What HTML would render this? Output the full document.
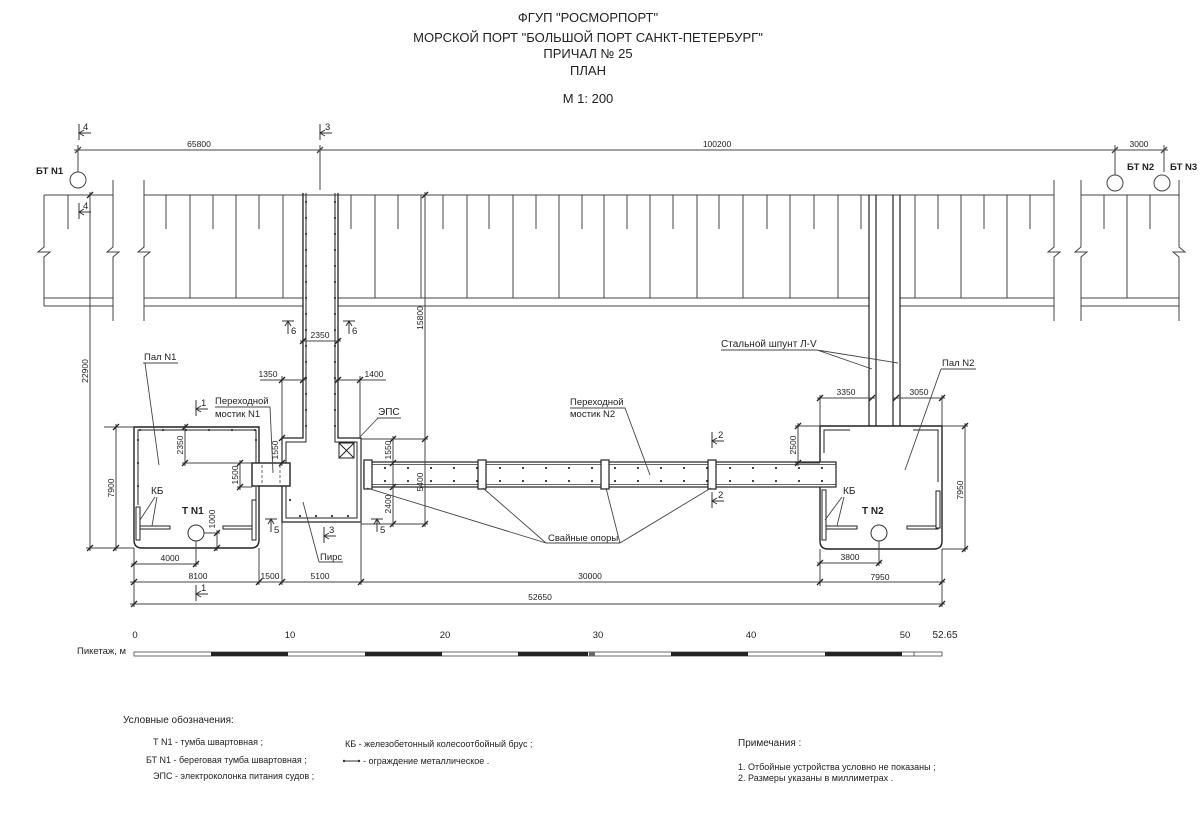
<!DOCTYPE html>
<html><head><meta charset="utf-8">
<style>
html,body{margin:0;padding:0;background:#fff;}
svg{display:block;}
text{font-family:"Liberation Sans","DejaVu Sans",sans-serif;fill:#222;}
</style></head><body>
<svg width="1200" height="826" viewBox="0 0 1200 826" xmlns="http://www.w3.org/2000/svg">
<rect width="1200" height="826" fill="#fff"/>

<!-- Title -->
<g font-size="13" text-anchor="middle">
<text x="588" y="22">ФГУП "РОСМОРПОРТ"</text>
<text x="588" y="42">МОРСКОЙ ПОРТ "БОЛЬШОЙ ПОРТ САНКТ-ПЕТЕРБУРГ"</text>
<text x="588" y="58">ПРИЧАЛ № 25</text>
<text x="588" y="75">ПЛАН</text>
<text x="588" y="103">М 1: 200</text>
</g>

<g stroke="#444" stroke-width="1" fill="none">
<!-- top dimension line -->
<line x1="74" y1="150" x2="1168" y2="150"/>
<line x1="78" y1="145" x2="78" y2="172"/>
<line x1="320" y1="145" x2="320" y2="190"/>
<line x1="1115" y1="145" x2="1115" y2="175"/>
<line x1="1164" y1="145" x2="1164" y2="172"/>
<path d="M75,153 L81,147 M317,153 L323,147 M1112,153 L1118,147 M1161,153 L1167,147" stroke-width="1.3"/>

<!-- bollards -->
<circle cx="78" cy="180" r="8"/>
<circle cx="1115" cy="183" r="8"/>
<circle cx="1162" cy="183" r="8"/>

<!-- quay segments -->
<path d="M44,195 H113 M44,298 H113 M44,306 H113"/>
<path d="M144,195 H1054"/>
<path d="M144,298 H303 M338,298 H869 M900,298 H1054 M144,306 H303 M338,306 H869 M900,306 H1054"/>
<path d="M1081,195 H1179 M1081,298 H1179 M1081,306 H1179"/>
<!-- break edges -->
<path d="M44,195 V247 L38,252 H50 L44,257 V306"/>
<path d="M113,180 V247 L107,252 H119 L113,257 V321"/>
<path d="M144,180 V247 L138,252 H150 L144,257 V321"/>
<path d="M1054,180 V247 L1048,252 H1060 L1054,257 V321"/>
<path d="M1081,180 V247 L1075,252 H1087 L1081,257 V321"/>
<path d="M1179,180 V247 L1185,252 H1173 L1179,257 V321"/>

<!-- tall lines -->
<path d="M190,195V298 M236,195V298 M283,195V298 M375,195V298 M421,195V298 M467,195V298 M513,195V298 M559,195V298 M604,195V298 M650,195V298 M697,195V298 M743,195V298 M790,195V298 M838,195V298 M915,195V298 M961,195V298 M1007,195V298 M1127,195V298"/>
<!-- short ticks -->
<path d="M68,195V229 M166,195V229 M213,195V229 M259,195V229 M351,195V229 M398,195V229 M443,195V229 M489,195V229 M536,195V229 M582,195V229 M627,195V229 M673,195V229 M719,195V229 M767,195V229 M814,195V229 M861,195V229 M938,195V229 M984,195V229 M1030,195V229 M1104,195V229 M1150,195V229"/>
</g>

<!-- Pier 1 -->
<g stroke="#222" fill="none" stroke-width="1.3">
<path d="M303,193 V438 H282 V522 H361 V438 H338 V193"/>
<path d="M306,193 V442 H286 V518 H357 V442 H335 V193" stroke-width="1"/>
</g>
<g stroke="#333" stroke-width="2.2" stroke-linecap="round" stroke-dasharray="0 16" fill="none">
<line x1="306" y1="202" x2="306" y2="436"/>
<line x1="335" y1="202" x2="335" y2="436"/>
<line x1="290" y1="500" x2="290" y2="516"/>
<line x1="300" y1="516" x2="356" y2="516"/>
</g>
<!-- EPS box -->
<g stroke="#222" stroke-width="1" fill="#fff">
<rect x="339" y="443" width="15" height="15"/>
<path d="M339,443 L354,458 M354,443 L339,458"/>
</g>

<!-- Pier 2 channel -->
<g stroke="#222" stroke-width="1.2" fill="none">
<path d="M869,195 V426 M876,195 V426 M893,195 V426 M900,195 V426"/>
</g>

<!-- Pal N1 -->
<g stroke="#222" fill="none">
<path d="M134,427 H259 V540 Q259,548 251,548 H142 Q134,548 134,540 Z" stroke-width="1.4"/>
<path d="M138,505 V430 H256 V463 M256,487 V500" stroke-width="1"/>
</g>
<g stroke="#333" stroke-width="2.2" stroke-linecap="round" stroke-dasharray="0 23" fill="none">
<line x1="140" y1="430" x2="256" y2="430"/>
<line x1="138" y1="440" x2="138" y2="505"/>
<line x1="256" y1="440" x2="256" y2="463"/>
</g>
<!-- fenders N1 -->
<g fill="#fff" stroke="#222" stroke-width="1">
<rect x="136" y="507" width="4" height="33"/>
<rect x="140" y="526" width="30" height="3"/>
<rect x="223" y="526" width="30" height="3"/>
<rect x="252" y="500" width="4" height="40"/>
</g>
<circle cx="196" cy="533" r="8" fill="none" stroke="#333"/>

<!-- Pal N2 -->
<g stroke="#222" fill="none">
<path d="M820,426 H942 V541 Q942,549 934,549 H828 Q820,549 820,541 Z" stroke-width="1.4"/>
<path d="M850,430 H824 V453 M913,430 H938 V482" stroke-width="1"/>
</g>
<g fill="#fff" stroke="#222" stroke-width="1">
<rect x="822" y="490" width="4" height="50"/>
<rect x="826" y="526" width="31" height="3"/>
<rect x="907" y="526" width="31" height="3"/>
<rect x="936" y="491" width="4" height="37"/>
</g>
<circle cx="879" cy="533" r="8" fill="none" stroke="#333"/>

<!-- Bridge N2 -->
<rect x="364" y="462" width="472" height="25" fill="#fff" stroke="#222" stroke-width="1.2"/>
<g stroke="#333" stroke-width="0.8" fill="none">
<line x1="364" y1="464.5" x2="836" y2="464.5"/>
<line x1="364" y1="484.5" x2="836" y2="484.5"/>
</g>
<g stroke="#333" stroke-width="2.2" stroke-linecap="round" stroke-dasharray="0 23" fill="none">
<line x1="385" y1="468" x2="830" y2="468"/>
<line x1="385" y1="481" x2="830" y2="481"/>
</g>
<!-- piles -->
<g fill="#fff" stroke="#222" stroke-width="1.2">
<rect x="364" y="460" width="8" height="29"/>
<rect x="478" y="460" width="8" height="29"/>
<rect x="601" y="460" width="8" height="29"/>
<rect x="708" y="460" width="8" height="29"/>
</g>

<!-- Bridge N1 -->
<rect x="252" y="463" width="38" height="23" fill="#fff" stroke="#222" stroke-width="1.4"/>
<g stroke="#444" stroke-width="0.8" stroke-dasharray="3 2" fill="none">
<line x1="262" y1="465" x2="262" y2="484"/>
<line x1="280" y1="465" x2="280" y2="484"/>
</g>

<!-- Dimension lines -->
<g stroke="#444" stroke-width="1" fill="none">
<!-- 22900 / 7900 -->
<line x1="90" y1="192" x2="90" y2="551"/>
<line x1="116" y1="424" x2="116" y2="551"/>
<line x1="104" y1="427" x2="134" y2="427"/>
<line x1="86" y1="548" x2="134" y2="548"/>
<!-- 2350 / 1500 inside Pal N1 -->
<line x1="185" y1="424" x2="185" y2="466"/>
<line x1="182" y1="463" x2="252" y2="463"/>
<line x1="240" y1="460" x2="240" y2="490"/>
<line x1="237" y1="487" x2="252" y2="487"/>
<!-- 1000 -->
<line x1="217" y1="530" x2="217" y2="551"/>
<line x1="204" y1="533" x2="220" y2="533"/>
<!-- bottom ext lines -->
<line x1="134" y1="548" x2="134" y2="607"/>
<line x1="259" y1="548" x2="259" y2="585"/>
<line x1="282" y1="522" x2="282" y2="585"/>
<line x1="361" y1="439" x2="361" y2="585"/>
<line x1="820" y1="549" x2="820" y2="586"/>
<line x1="942" y1="549" x2="942" y2="607"/>
<line x1="196" y1="541" x2="196" y2="567"/>
<line x1="879" y1="541" x2="879" y2="566"/>
<!-- horizontal dims -->
<line x1="131" y1="564" x2="199" y2="564"/>
<line x1="817" y1="563" x2="882" y2="563"/>
<line x1="130" y1="582" x2="945" y2="582"/>
<line x1="130" y1="604" x2="945" y2="604"/>
<!-- pier channel dims -->
<line x1="300" y1="341" x2="341" y2="341"/>
<line x1="260" y1="380" x2="306" y2="380"/>
<line x1="335" y1="380" x2="386" y2="380"/>
<line x1="282" y1="376" x2="282" y2="466"/>
<line x1="360" y1="376" x2="360" y2="438"/>
<!-- 15800 / 5400 / 1550 / 2400 -->
<line x1="425" y1="192" x2="425" y2="527"/>
<line x1="393" y1="436" x2="393" y2="527"/>
<line x1="361" y1="439" x2="428" y2="439"/>
<line x1="361" y1="524" x2="428" y2="524"/>
<!-- Pal N2 dims -->
<line x1="817" y1="398" x2="875" y2="398"/>
<line x1="893" y1="398" x2="945" y2="398"/>
<line x1="820" y1="395" x2="820" y2="426"/>
<line x1="942" y1="395" x2="942" y2="426"/>
<line x1="798" y1="423" x2="798" y2="466"/>
<line x1="795" y1="426" x2="820" y2="426"/>
<line x1="795" y1="463" x2="820" y2="463"/>
<line x1="965" y1="423" x2="965" y2="552"/>
<line x1="942" y1="426" x2="968" y2="426"/>
<line x1="942" y1="549" x2="968" y2="549"/>
</g>
<!-- ticks -->
<g stroke="#222" stroke-width="1.3" fill="none">
<path d="M87,198 L93,192 M87,551 L93,545 M113,430 L119,424 M113,551 L119,545
M182,430 L188,424 M182,466 L188,460 M237,466 L243,460 M237,490 L243,484
M214,536 L220,530 M214,551 L220,545
M131,567 L137,561 M193,567 L199,561 M817,566 L823,560 M876,566 L882,560
M131,585 L137,579 M256,585 L262,579 M279,585 L285,579 M358,585 L364,579 M817,585 L823,579 M939,585 L945,579
M131,607 L137,601 M939,607 L945,601
M300,344 L306,338 M335,344 L341,338
M279,383 L285,377 M300,383 L306,377 M335,383 L341,377 M357,383 L363,377
M279,441 L285,435 M279,466 L285,460
M422,198 L428,192 M422,442 L428,436 M422,527 L428,521
M390,442 L396,436 M390,466 L396,460 M390,490 L396,484 M390,527 L396,521
M817,401 L823,395 M869,401 L875,395 M893,401 L899,395 M939,401 L945,395
M795,429 L801,423 M795,466 L801,460 M962,429 L968,423 M962,552 L968,546"/>
</g>

<!-- Section marks -->
<g stroke="#333" stroke-width="1" fill="none">
<line x1="79" y1="124" x2="79" y2="140"/><line x1="79" y1="133" x2="91" y2="133"/><polyline points="84,130 79,133 84,136"/>
<line x1="320" y1="124" x2="320" y2="140"/><line x1="320" y1="133" x2="332" y2="133"/><polyline points="325,130 320,133 325,136"/>
<line x1="79" y1="203" x2="79" y2="219"/><line x1="79" y1="212" x2="91" y2="212"/><polyline points="84,209 79,212 84,215"/>
<line x1="196" y1="400" x2="196" y2="416"/><line x1="196" y1="409" x2="208" y2="409"/><polyline points="201,406 196,409 201,412"/>
<line x1="196" y1="585" x2="196" y2="601"/><line x1="196" y1="594" x2="208" y2="594"/><polyline points="201,591 196,594 201,597"/>
<line x1="324" y1="527" x2="324" y2="543"/><line x1="324" y1="536" x2="336" y2="536"/><polyline points="329,533 324,536 329,539"/>
<line x1="712" y1="432" x2="712" y2="448"/><line x1="712" y1="441" x2="724" y2="441"/><polyline points="717,438 712,441 717,444"/>
<line x1="712" y1="492" x2="712" y2="508"/><line x1="712" y1="501" x2="724" y2="501"/><polyline points="717,498 712,501 717,504"/>
<line x1="282" y1="321" x2="294" y2="321"/><line x1="288" y1="321" x2="288" y2="334"/><polyline points="285,326 288,321 291,326"/>
<line x1="343" y1="321" x2="355" y2="321"/><line x1="349" y1="321" x2="349" y2="334"/><polyline points="346,326 349,321 352,326"/>
<line x1="265" y1="519" x2="277" y2="519"/><line x1="271" y1="519" x2="271" y2="532"/><polyline points="268,524 271,519 274,524"/>
<line x1="371" y1="519" x2="383" y2="519"/><line x1="377" y1="519" x2="377" y2="532"/><polyline points="374,524 377,519 380,524"/>
</g>
<g font-size="9.5">
<text x="83" y="130">4</text>
<text x="325" y="130">3</text>
<text x="83" y="209">4</text>
<text x="201" y="406">1</text>
<text x="201" y="591">1</text>
<text x="329" y="533">3</text>
<text x="718" y="438">2</text>
<text x="718" y="498">2</text>
<text x="291" y="334">6</text>
<text x="352" y="334">6</text>
<text x="274" y="533">5</text>
<text x="380" y="533">5</text>
</g>

<!-- Leaders -->
<g stroke="#444" stroke-width="0.9" fill="none">
<path d="M143,363 H178 M145,363 L159,465"/>
<path d="M215,407 H270 L273,473"/>
<path d="M377,418 H401 M378,418 L358,439"/>
<path d="M319,562 H343 M319,562 L303,502"/>
<path d="M155,497 L140,520 M157,497 L152,526"/>
<path d="M842,497 L825,520 M844,497 L837,526"/>
<path d="M570,408 H625 L650,475"/>
<path d="M546,543 H620 M546,543 L367,488 M546,543 L483,488 M620,543 L606,488 M620,543 L711,488"/>
<path d="M721,350 H817 L872,369 M817,350 L898,363"/>
<path d="M941,369 H976 M941,369 L905,470"/>
</g>

<!-- Labels -->
<g font-size="9.5">
<text x="36" y="174" font-weight="bold">БТ N1</text>
<text x="1127" y="170" font-weight="bold">БТ N2</text>
<text x="1170" y="170" font-weight="bold">БТ N3</text>
<text x="144" y="360">Пал N1</text>
<text x="215" y="404">Переходной</text>
<text x="215" y="417">мостик N1</text>
<text x="378" y="415" font-size="10">ЭПС</text>
<text x="320" y="560">Пирс</text>
<text x="151" y="494" font-size="10">КБ</text>
<text x="182" y="514" font-weight="bold" font-size="10">Т N1</text>
<text x="570" y="405">Переходной</text>
<text x="570" y="417">мостик N2</text>
<text x="548" y="541">Свайные опоры</text>
<text x="721" y="347" font-size="10">Стальной шпунт Л-V</text>
<text x="942" y="366">Пал N2</text>
<text x="843" y="494" font-size="10">КБ</text>
<text x="862" y="514" font-weight="bold" font-size="10">Т N2</text>
</g>

<!-- Dimension texts -->
<g font-size="8.5" text-anchor="middle">
<text x="199" y="147">65800</text>
<text x="717" y="147">100200</text>
<text x="1139" y="147">3000</text>
<text x="320" y="338">2350</text>
<text x="268" y="377">1350</text>
<text x="374" y="377">1400</text>
<text x="846" y="395">3350</text>
<text x="919" y="395">3050</text>
<text x="170" y="561">4000</text>
<text x="850" y="560">3800</text>
<text x="198" y="579">8100</text>
<text x="270" y="579">1500</text>
<text x="320" y="579">5100</text>
<text x="590" y="579">30000</text>
<text x="880" y="580">7950</text>
<text x="540" y="600">52650</text>
<text transform="translate(88,371) rotate(-90)">22900</text>
<text transform="translate(114,488) rotate(-90)">7900</text>
<text transform="translate(183,445) rotate(-90)">2350</text>
<text transform="translate(238,475) rotate(-90)">1500</text>
<text transform="translate(278,450) rotate(-90)">1550</text>
<text transform="translate(215,519) rotate(-90)">1000</text>
<text transform="translate(391,450) rotate(-90)">1550</text>
<text transform="translate(391,504) rotate(-90)">2400</text>
<text transform="translate(423,482) rotate(-90)">5400</text>
<text transform="translate(423,318) rotate(-90)">15800</text>
<text transform="translate(796,445) rotate(-90)">2500</text>
<text transform="translate(963,490) rotate(-90)">7950</text>
</g>

<!-- Scale bar -->
<g>
<rect x="134" y="652" width="808" height="4" fill="#fff" stroke="#444" stroke-width="0.8"/>
<g fill="#222">
<rect x="211" y="652" width="77" height="4"/>
<rect x="365" y="652" width="77" height="4"/>
<rect x="518" y="652" width="70" height="4"/>
<rect x="589" y="652.5" width="6" height="3" fill="#666"/>
<rect x="671" y="652" width="77" height="4"/>
<rect x="825" y="652" width="77" height="4"/>
</g>
<line x1="914" y1="652" x2="914" y2="656" stroke="#444" stroke-width="0.8"/>
</g>
<g font-size="9.5" text-anchor="middle">
<text x="135" y="638">0</text>
<text x="290" y="638">10</text>
<text x="445" y="638">20</text>
<text x="598" y="638">30</text>
<text x="751" y="638">40</text>
<text x="905" y="638">50</text>
<text x="945" y="638" font-size="10">52.65</text>
</g>
<text x="77" y="654" font-size="9.5">Пикетаж, м</text>

<!-- Legend -->
<g font-size="10">
<text x="123" y="723">Условные обозначения:</text>
<text x="738" y="746">Примечания :</text>
</g>
<g font-size="9">
<text x="153" y="745">Т N1 - тумба швартовная ;</text>
<text x="146" y="763">БТ N1 - береговая тумба швартовная ;</text>
<text x="153" y="779">ЭПС  - электроколонка питания судов ;</text>
<text x="345" y="747">КБ  - железобетонный колесоотбойный брус ;</text>
<text x="363" y="764">- ограждение металлическое .</text>
<text x="738" y="770">1. Отбойные устройства условно не показаны ;</text>
<text x="738" y="781">2. Размеры указаны в миллиметрах .</text>
</g>
<line x1="343" y1="761" x2="360" y2="761" stroke="#333" stroke-width="1"/>
<circle cx="344" cy="761" r="1.2" fill="#333"/>
<circle cx="359" cy="761" r="1.2" fill="#333"/>
</svg>
</body></html>
